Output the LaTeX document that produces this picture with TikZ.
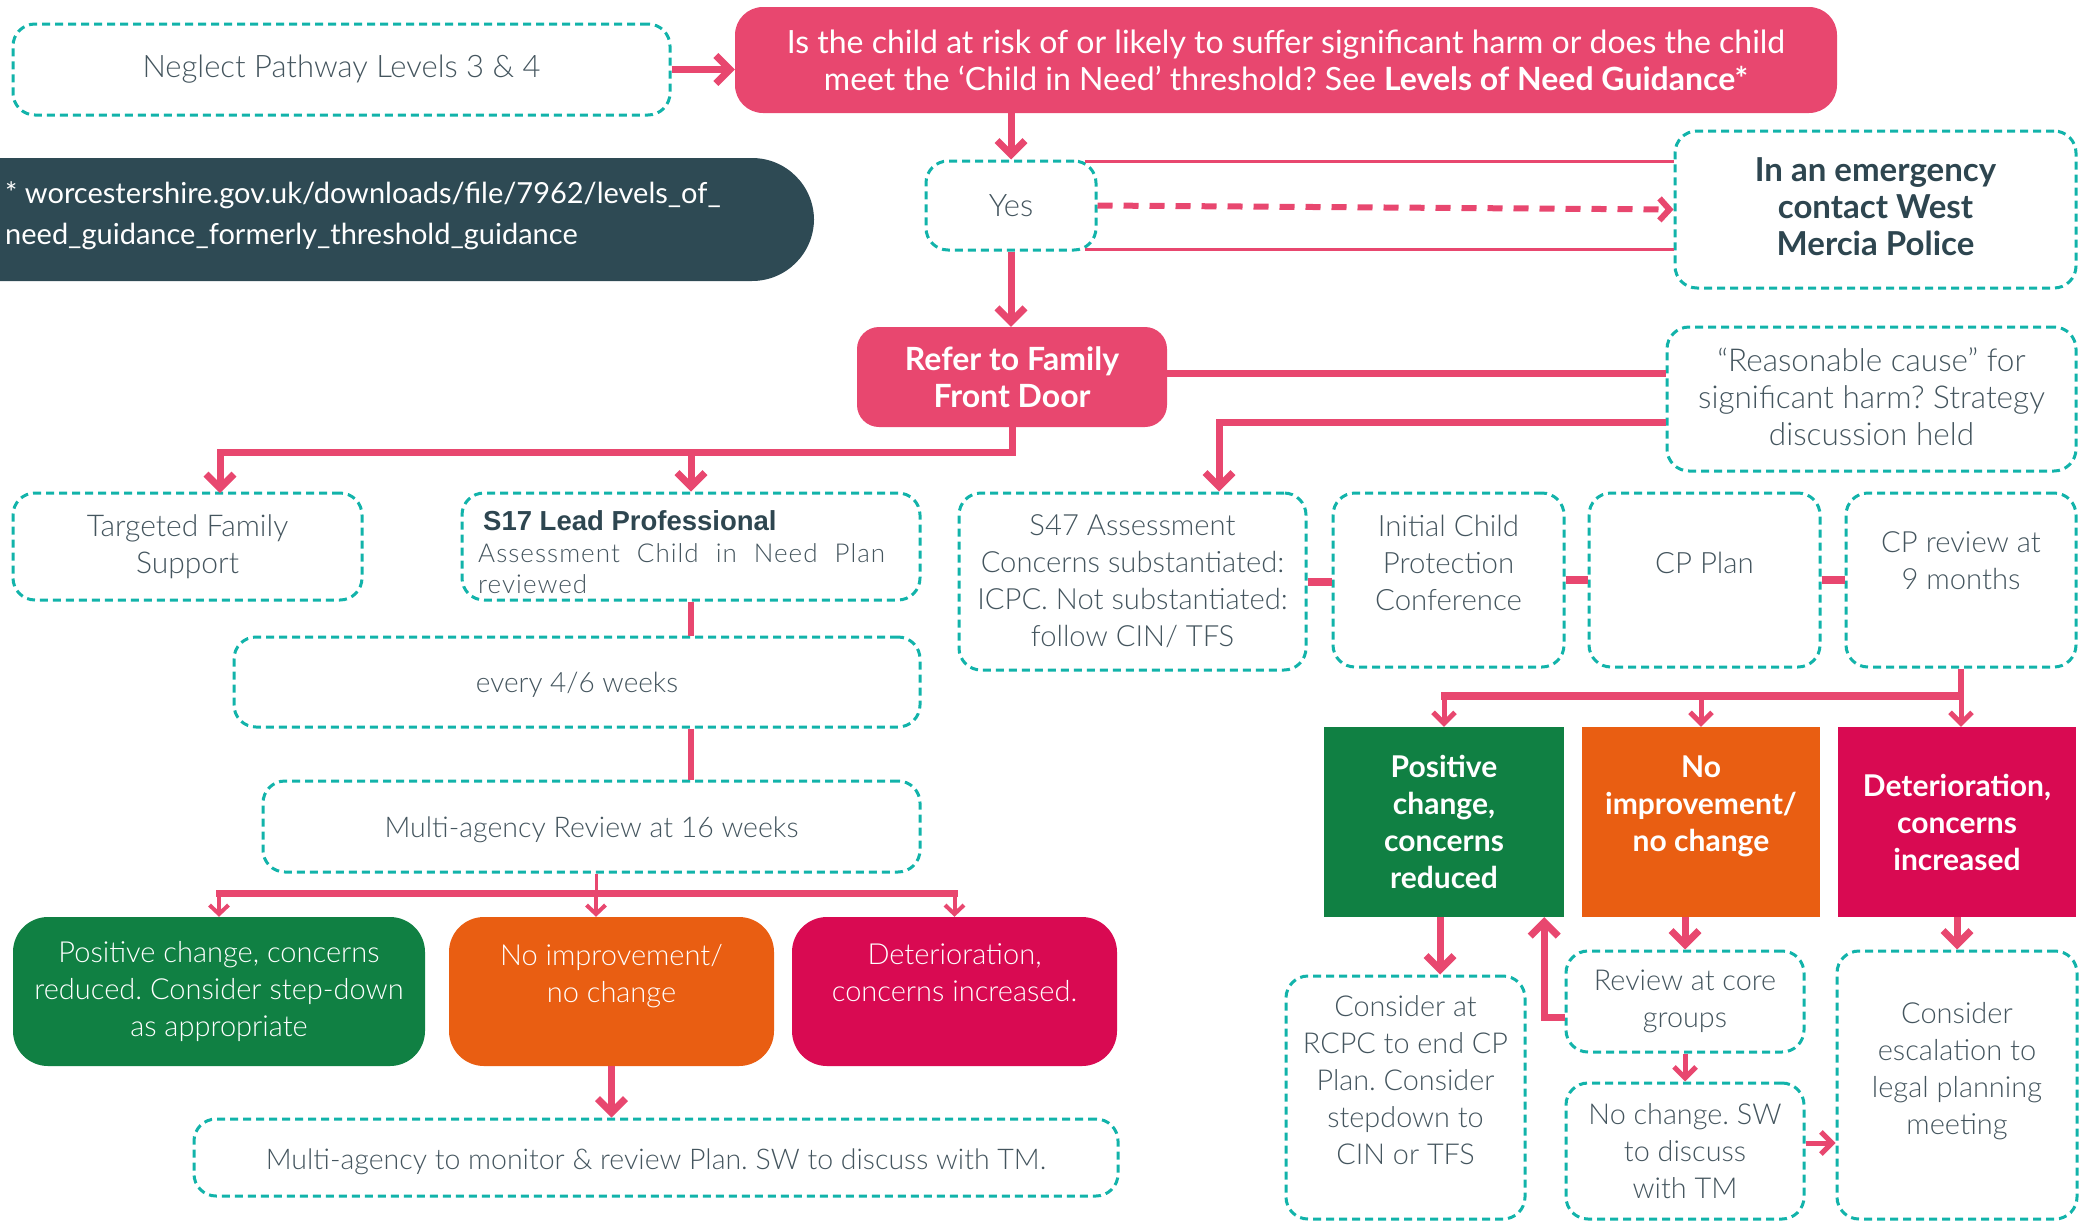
\documentclass[tikz,border=0pt]{standalone}
\usepackage{fontspec}
\setmainfont{Lato}[UprightFont=* Light, BoldFont=* Bold]
\newfontfamily\latoreg{Lato}
\newfontfamily\arialf{Liberation Sans}
\usetikzlibrary{arrows.meta,calc}
\definecolor{pinkc}{HTML}{E8476F}
\definecolor{tealc}{HTML}{12B3AA}
\definecolor{textc}{HTML}{44555E}
\definecolor{darkc}{HTML}{2E4A54}
\definecolor{headc}{HTML}{2E4650}
\definecolor{greenc}{HTML}{108043}
\definecolor{orangec}{HTML}{E95E12}
\definecolor{redc}{HTML}{D90A52}
\newcommand\fsz[1]{\fontsize{#1pt}{37pt}\selectfont}
\begin{document}
\frenchspacing
\begin{tikzpicture}[x=1pt,y=-1pt,
  dbox/.style={draw=tealc, line width=3pt, dash pattern=on 8pt off 5pt, rounded corners=22pt, text=textc, align=center, font=\fsz{30}, inner sep=0pt},
  fillbox/.style={rounded corners=30pt, text=white, align=center, font=\fsz{29}, inner sep=0pt},
  sqbox/.style={text=white, align=center, font=\bfseries\fsz{30}, inner sep=0pt},
  con/.style={draw=pinkc, line width=6pt},
  thickcon/.style={draw=pinkc, line width=8pt},
  thinline/.style={draw=pinkc, line width=3pt},
  bigarr/.style={draw=pinkc, line width=7pt, -{Straight Barb[length=14pt,width=28pt]}},
  medarr/.style={draw=pinkc, line width=5pt, -{Straight Barb[length=11pt,width=22pt]}},
  smallarr/.style={draw=pinkc, line width=4pt, -{Straight Barb[length=9pt,width=19pt]}}
]
\useasboundingbox (0,0) rectangle (2089,1224);

% ---------- top ----------
\node[dbox, font=\fsz{31}, minimum width=657pt, minimum height=91pt] (neglect) at (341.5,69.5) {Neglect Pathway Levels 3 \& 4};
\node[fillbox, fill=pinkc, rounded corners=28pt, font=\latoreg\fontsize{32pt}{37pt}\selectfont, minimum width=1102pt, minimum height=106pt] (question) at (1286,60)
  {Is the child at risk of or likely to suffer significant harm or does the child\\meet the ‘Child in Need’ threshold? See \textbf{Levels of Need Guidance*}};
\node[fill=darkc, rounded corners=62pt, minimum width=914pt, minimum height=123pt, inner sep=0pt] (footbg) at (357,219.5) {};
\node[anchor=west, align=left, text=white, font=\latoreg\fontsize{29pt}{41pt}\selectfont, inner sep=0pt] (foottext) at (5,216)
  {* worcestershire.gov.uk/downloads/file/7962/levels\_of\_\\need\_guidance\_formerly\_threshold\_guidance};

\node[dbox, font=\fsz{31}, minimum width=170pt, minimum height=89pt] (yes) at (1011,205.5) {Yes};
\node[dbox, text=headc, font=\bfseries\fsz{33}, minimum width=401pt, minimum height=157pt] (emerg) at (1875.5,209.5) {In an emergency\\contact West\\Mercia Police\\[-32pt]\mbox{}};
\node[fillbox, fill=pinkc, font=\bfseries\fsz{32}, rounded corners=22pt, minimum width=310pt, minimum height=100pt] (refer) at (1012,377) {Refer to Family\\Front Door};
\node[dbox, font=\fsz{31.5}, minimum width=409pt, minimum height=144pt] (reason) at (1871.5,399) {“Reasonable cause” for\\significant harm? Strategy\\discussion held\\[-32pt]\mbox{}};

% ---------- left column ----------
\node[dbox, minimum width=349pt, minimum height=107pt] (targeted) at (187.5,546.5) {Targeted Family\\Support};
\node[dbox, minimum width=458pt, minimum height=107pt] (s17) at (691,546.5) {};
\node[anchor=base west, inner sep=0pt, text=headc, font=\arialf\bfseries\fontsize{27.5pt}{30pt}\selectfont] (s17a) at (483,530) {S17 Lead Professional};
\node[anchor=base west, inner sep=0pt, text=textc, font=\fontsize{26pt}{31pt}\selectfont\addfontfeatures{LetterSpace=4}] (s17b) at (478,562) {\makebox[407pt][s]{Assessment Child in Need Plan}};
\node[anchor=base west, inner sep=0pt, text=textc, font=\fontsize{26pt}{31pt}\selectfont\addfontfeatures{LetterSpace=4}] (s17c) at (478,593) {reviewed};
\node[dbox, font=\fsz{28}, minimum width=686pt, minimum height=90pt] (every) at (577,682) {every 4/6 weeks\\[-38pt]\mbox{}};
\node[dbox, font=\fsz{28.5}, minimum width=657pt, minimum height=91pt] (multirev) at (591.5,826.5) {Multi-agency Review at 16 weeks\\[-38pt]\mbox{}};
\node[fillbox, fill=greenc, rounded corners=35pt, minimum width=412pt, minimum height=149pt] (green1) at (219,991.5) {Positive change, concerns\\reduced. Consider step-down\\as appropriate};
\node[fillbox, fill=orangec, rounded corners=35pt, minimum width=325pt, minimum height=149pt] (orange1) at (611.5,991.5) {No improvement/\\no change\\\mbox{}};
\node[fillbox, fill=redc, rounded corners=35pt, minimum width=325pt, minimum height=149pt] (red1) at (954.5,991.5) {Deterioration,\\concerns increased.\\\mbox{}};
\node[dbox, font=\fsz{28.5}, minimum width=924pt, minimum height=77pt] (monitor) at (656,1157.5) {Multi-agency to monitor \& review Plan. SW to discuss with TM.\\[-40pt]\mbox{}};

% ---------- right column ----------
\node[dbox, font=\fsz{29.2}, minimum width=347pt, minimum height=177pt] (s47) at (1132.5,581.5) {S47 Assessment\\Concerns substantiated:\\ICPC. Not substantiated:\\follow CIN/ TFS};
\node[dbox, font=\fsz{29.4}, minimum width=231pt, minimum height=174pt] (icpc) at (1448.5,580) {Initial Child\\Protection\\Conference\\[-3pt]\mbox{}};
\node[dbox, font=\fsz{29.4}, minimum width=231pt, minimum height=174pt] (cpplan) at (1704.5,580) {CP Plan\\[-3pt]\mbox{}};
\node[dbox, font=\fsz{29.2}, minimum width=230pt, minimum height=174pt] (cprev) at (1961,580) {CP review at\\9 months\\[1pt]\mbox{}};
\node[sqbox, fill=greenc, minimum width=240pt, minimum height=190pt] (green2) at (1444,822) {Positive\\change,\\concerns\\reduced};
\node[sqbox, fill=orangec, minimum width=238pt, minimum height=190pt] (orange2) at (1701,822) {No\\improvement/\\no change\\\mbox{}};
\node[sqbox, fill=redc, minimum width=238pt, minimum height=190pt] (red2) at (1957,822) {Deterioration,\\concerns\\increased};
\node[dbox, font=\fsz{28.8}, minimum width=239pt, minimum height=243pt] (rcpc) at (1405.5,1097.5) {Consider at\\RCPC to end CP\\Plan. Consider\\stepdown to\\CIN or TFS\\[-3pt]\mbox{}};
\node[dbox, font=\fsz{28.8}, minimum width=238pt, minimum height=101pt] (core) at (1685,1001.5) {Review at core\\groups};
\node[dbox, font=\fsz{28.8}, minimum width=238pt, minimum height=136pt] (nochange) at (1685,1151) {No change. SW\\to discuss\\with TM};
\node[dbox, font=\fsz{29}, minimum width=240pt, minimum height=268pt] (escal) at (1957,1085) {Consider\\escalation to\\legal planning\\meeting\\[-3pt]\mbox{}};

% ---------- connectors ----------
\coordinate (j1) at (1012,452);
\coordinate (tgtbend) at (220,452);
\coordinate (tgtin) at (220,493);
\coordinate (j2) at (596,893.5);
\coordinate (j3) at (1961,696);

\draw[bigarr] (neglect.east) -- (neglect.east -| question.west);
\draw[bigarr] (question.south -| yes.north) -- (yes.north);
\draw[thinline] ($(yes.north east)+(-13,2)$) -- ($(yes.north east -| emerg.west)+(0,2)$);
\draw[thinline] ($(yes.south east)+(-13,-2)$) -- ($(yes.south east -| emerg.west)+(0,-2)$);
\draw[draw=pinkc, line width=6pt, dash pattern=on 15pt off 11pt, -{Straight Barb[length=10pt,width=22pt]}] (yes.east) -- (emerg.west);
\draw[bigarr] (yes.south) -- (yes.south |- refer.north);
\draw[draw=pinkc, line width=7pt] ($(refer.east)+(0,-4)$) -- ($(refer.east -| reason.west)+(0,-4)$);
\draw[bigarr] ($(reason.west)+(0,23)$) -| ($(s47.north)+(86.5,0)$);
\draw[bigarr] (refer.south) |- (tgtbend) -- (tgtin);
\draw[bigarr] (s17.north |- j1) -- (s17.north);
\draw[con] (s17.south) -- (s17.south |- every.north);
\draw[con] (s17.south |- every.south) -- (s17.south |- multirev.north);
\draw[draw=pinkc, line width=3pt] (j2 |- multirev.south) -- (j2);
\draw[draw=pinkc, line width=7pt] ($(green1.north |- j2)+(-3,0)$) -- ($(red1.north |- j2)+(3,0)$);
\draw[smallarr] (green1.north |- j2) -- (green1.north);
\draw[smallarr] (j2) -- (j2 |- orange1.north);
\draw[smallarr] (red1.north |- j2) -- (red1.north);
\draw[bigarr] (orange1.south) -- (orange1.south |- monitor.north);

\draw[thickcon] (s47.east) -- (s47.east -| icpc.west);
\draw[thickcon] (icpc.east) -- (icpc.east -| cpplan.west);
\draw[thickcon] (cpplan.east) -- (cpplan.east -| cprev.west);
\draw[con] (cprev.south) -- (j3);
\draw[thickcon] ($(green2.north |- j3)+(-3,0)$) -- ($(j3)+(3,0)$);
\draw[medarr] (green2.north |- j3) -- (green2.north);
\draw[medarr] (orange2.north |- j3) -- (orange2.north);
\draw[medarr] (j3) -- (j3 |- red2.north);
\draw[bigarr] ($(green2.south)+(-4,0)$) -- ($(green2.south |- rcpc.north)+(-4,0)$);
\draw[bigarr] (core.north |- orange2.south) -- (core.north);
\draw[medarr] (core.south) -- (nochange.north);
\draw[bigarr] (escal.north |- red2.south) -- (escal.north);
\draw[medarr] ($(nochange.east)+(0,-8)$) -- ($(nochange.east -| escal.west)+(0,-8)$);
\draw[bigarr] ($(core.west)+(0,16)$) -| ($(green2.south east)+(-20,0)$);
\end{tikzpicture}
\end{document}
